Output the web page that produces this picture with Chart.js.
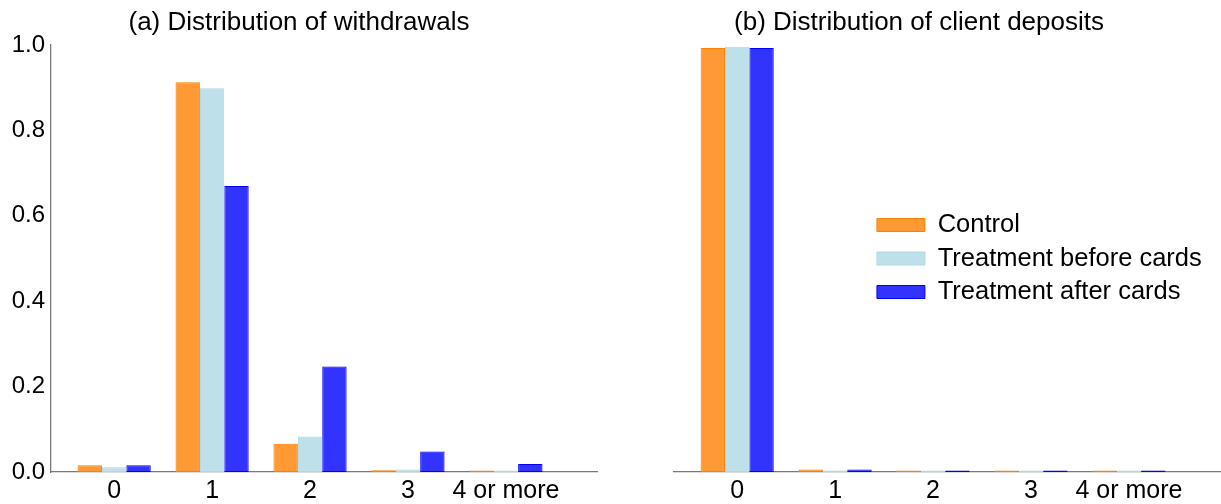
<!DOCTYPE html>
<html>
<head>
<meta charset="utf-8">
<title>Withdrawals and client deposits</title>
<script src="https://cdn.jsdelivr.net/npm/chart.js@4.4.1/dist/chart.umd.min.js"></script>
<style>
  html, body { margin: 0; padding: 0; background: #ffffff; }
  #wrap { position: relative; width: 1221px; height: 504px; overflow: hidden; }
  #wrap canvas { position: absolute; top: 0; }
  #left { left: 0; }
  #right { left: 617px; }
</style>
</head>
<body>
<div id="wrap">
  <canvas id="left" width="598" height="504"></canvas>
  <canvas id="right" width="604" height="504"></canvas>
</div>
<script>
// Number of transactions per month (category axis)
const categories = ['0', '1', '2', '3', '4 or more'];
const seriesNames = ['Control', 'Treatment before cards', 'Treatment after cards'];

// Panel (a): share of client-months by number of withdrawals
const withdrawalsControl = [0.016, 0.913, 0.066, 0.004, 0.0015];
const withdrawalsBefore  = [0.011, 0.899, 0.083, 0.006, 0.001];
const withdrawalsAfter   = [0.016, 0.670, 0.247, 0.048, 0.019];

// Panel (b): share of client-months by number of client deposits
const depositsControl = [0.993, 0.006, 0.0005, 0.0003, 0.0002];
const depositsBefore  = [0.996, 0.003, 0.0004, 0.0002, 0.0002];
const depositsAfter   = [0.993, 0.006, 0.0005, 0.0003, 0.0002];

const yTicks = [0, 0.2, 0.4, 0.6, 0.8, 1.0];

const fills   = ['rgba(255,128,0,0.8)', 'rgba(173,216,230,0.8)', 'rgba(0,0,255,0.8)'];
const borders = ['#ff8000', '#add8e6', '#0000ff'];

const FONT = "'Liberation Sans', Arial, Helvetica, sans-serif";
Chart.defaults.font.family = FONT;
Chart.defaults.color = '#000000';

function buildDatasets(seriesList) {
  return seriesList.map((values, s) => ({
    label: seriesNames[s],
    data: values.map((v, i) => ({ x: i, y: v })),
    backgroundColor: fills[s],
    borderColor: borders[s],
    borderWidth: 1,
    borderSkipped: false,
    minBarLength: 1.5,
    categoryPercentage: 0.747,
    barPercentage: 1.0
  }));
}

// Places the built-in legend inside the plot area, left edge at a fraction of its width
const legendPlacement = {
  id: 'legendPlacement',
  afterLayout(chart, args, opts) {
    const lg = chart.legend;
    if (!lg || !opts || opts.fraction === undefined) return;
    const ca = chart.chartArea;
    const w = lg.width;
    const pad = chart.options.plugins.legend.labels.padding;
    lg.left = ca.left + (ca.right - ca.left) * opts.fraction - pad;
    lg.right = lg.left + w;
    lg.top = ca.top;
    lg.bottom = ca.bottom;
  }
};

// showYAxis: tick labels and axis line on the left; otherwise the axis only reserves margin
function makeChart(canvasId, title, seriesList, showYAxis, showLegend, yMargin) {
  const yScale = {
    min: 0,
    max: 1,
    display: true,
    grid: { display: false, drawTicks: false },
    border: { display: showYAxis, color: '#7a7a7a', width: 1.3 },
    afterBuildTicks: (s) => { s.ticks = yTicks.map(v => ({ value: v })); },
    afterFit: (s) => { s.width = yMargin; },
    ticks: {
      display: showYAxis,
      padding: 6,
      font: { size: 24 },
      color: '#000000',
      callback: (v) => Number(v).toFixed(1)
    }
  };
  const xScale = {
    type: 'linear',
    min: -0.645,
    max: 4.94,
    offset: false,
    grid: { display: false, drawTicks: false, offset: false },
    border: { display: true, color: '#7a7a7a', width: 1.3 },
    afterBuildTicks: (s) => { s.ticks = categories.map((c, i) => ({ value: i })); },
    afterFit: (s) => { s.height = 32; },
    ticks: {
      autoSkip: false,
      maxRotation: 0,
      padding: 4,
      font: { size: 25 },
      color: '#000000',
      callback: (v) => categories[Math.round(v)]
    }
  };
  return new Chart(document.getElementById(canvasId), {
    type: 'bar',
    data: { datasets: buildDatasets(seriesList) },
    options: {
      responsive: false,
      animation: false,
      devicePixelRatio: 1,
      layout: { padding: 0 },
      scales: { x: xScale, y: yScale },
      plugins: {
        title: {
          display: true,
          text: title,
          fullSize: true,
          color: '#000000',
          font: { size: 26, weight: 'normal', lineHeight: 1.2 },
          padding: { top: 6.8, bottom: 7 }
        },
        legend: {
          display: showLegend,
          position: 'chartArea',
          fullSize: false,
          align: 'center',
          labels: {
            boxWidth: 48,
            boxHeight: 13,
            padding: 8,
            color: '#000000',
            font: { size: 25.5 }
          }
        },
        legendPlacement: showLegend ? { fraction: 0.371 } : {},
        tooltip: { enabled: false }
      }
    },
    plugins: [legendPlacement]
  });
}

makeChart('left', '(a) Distribution of withdrawals',
  [withdrawalsControl, withdrawalsBefore, withdrawalsAfter], true, false, 51);
makeChart('right', '(b) Distribution of client deposits',
  [depositsControl, depositsBefore, depositsAfter], false, true, 57);
</script>
</body>
</html>
